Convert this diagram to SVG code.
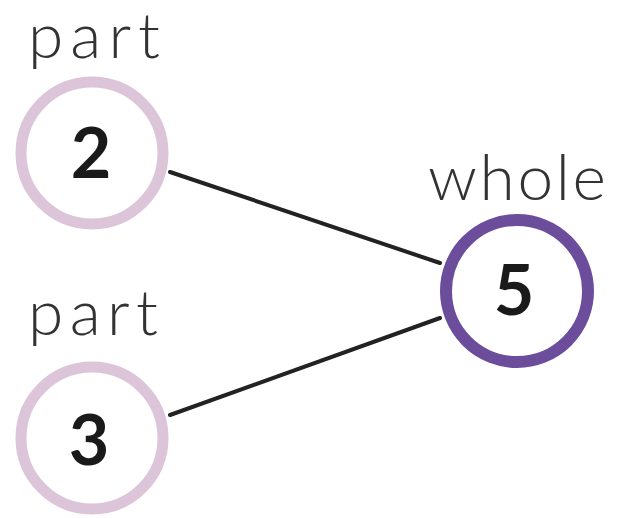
<svg xmlns="http://www.w3.org/2000/svg" width="618" height="518" viewBox="0 0 618 518">
<style>
.label{font-family:Lato,"Open Sans","DejaVu Sans",sans-serif;font-weight:300;font-size:64px;fill:#333}
.num{font-family:Lato,"Liberation Sans",Arial,sans-serif;font-weight:700;font-size:70px;fill:#1a1a1a;text-anchor:middle}
.part{fill:#fff;stroke:#dcc5d9;stroke-width:11}
.whole{fill:#fff;stroke:#6b4d9c;stroke-width:12}
.conn{stroke:#222;stroke-width:4;stroke-linecap:round}
</style>
<rect width="618" height="518" fill="#fff"/>
<g id="connectors">
<line class="conn" x1="170" y1="172" x2="440" y2="263"/>
<line class="conn" x1="170" y1="415" x2="440" y2="318"/>
</g>
<g id="node-part-2">
<text class="label" x="28" y="58" textLength="132" lengthAdjust="spacing">part</text>
<circle class="part" cx="92" cy="153" r="71"/>
<text class="num" x="91" y="178">2</text>
</g>
<g id="node-part-3">
<text class="label" x="28" y="335" textLength="130" lengthAdjust="spacing">part</text>
<circle class="part" cx="92" cy="438" r="71"/>
<text class="num" x="89" y="465">3</text>
</g>
<g id="node-whole-5">
<text class="label" x="428" y="200" textLength="178" lengthAdjust="spacing">whole</text>
<circle class="whole" cx="517" cy="291" r="71"/>
<text class="num" x="514" y="315">5</text>
</g>
</svg>
